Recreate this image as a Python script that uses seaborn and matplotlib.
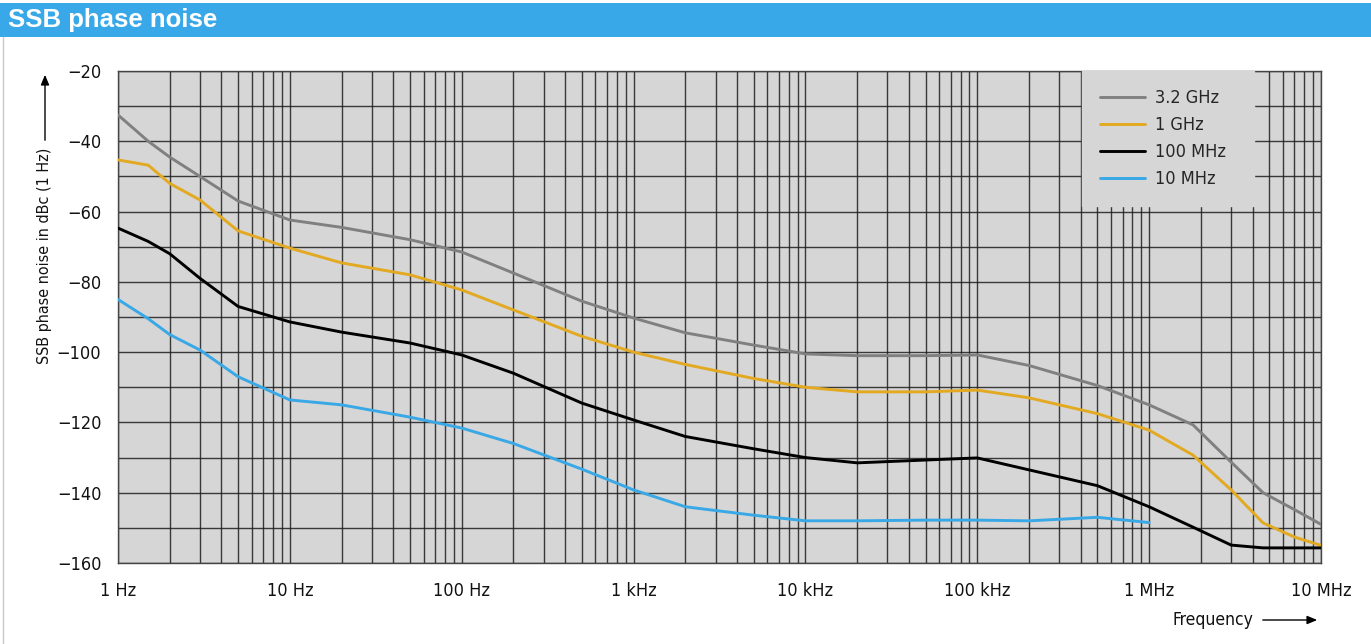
import numpy as np
import pandas as pd
import matplotlib
matplotlib.use("Agg")
import matplotlib.pyplot as plt
import matplotlib.ticker as mticker
import seaborn as sns

# ---------------- data ----------------
freq = [1, 1.5, 2, 3, 5, 10, 20, 50, 100, 200, 500, 1e3, 2e3, 5e3, 1e4, 2e4, 5e4,
        1e5, 2e5, 5e5, 1e6, 1.8e6, 3e6, 4.6e6, 7e6, 1e7]
ghz32 = [-32.5, -40, -44.5, -50, -57, -62.4, -64.5, -68, -71.5, -77.5, -85.5, -90.3,
         -94.5, -98, -100.5, -101, -101, -100.8, -103.8, -109.5, -115, -120.7, -131.3,
         -140, -144.8, -149]
ghz1 = [-45.3, -46.8, -52, -56.7, -65.5, -70.4, -74.6, -78, -82.3, -88, -95.5, -100,
        -103.5, -107.5, -110, -111.3, -111.3, -110.8, -113, -117.5, -122.2, -129.3,
        -139.2, -148.6, -152.6, -155]
mhz100 = [-64.7, -68.5, -72, -79, -87, -91.4, -94.3, -97.4, -100.8, -106, -114.5, -119.3,
          -124, -127.5, -130, -131.5, -130.7, -130.1, -133.5, -138, -144, -149.8, -154.9,
          -155.7, -155.7, -155.7]
freq_10m = freq[:21]
mhz10 = [-85, -90.5, -95, -99.4, -107, -113.6, -115, -118.5, -121.6, -126, -133.3, -139.2,
         -144, -146.4, -148, -148, -147.8, -147.8, -148, -147, -148.5]

series_names = ["3.2 GHz", "1 GHz", "100 MHz", "10 MHz"]
colors = ["#808080", "#E2A921", "#000000", "#39A8E6"]
x_ticks = [1, 10, 100, 1e3, 1e4, 1e5, 1e6, 1e7]
x_labels = ["1 Hz", "10 Hz", "100 Hz", "1 kHz", "10 kHz", "100 kHz", "1 MHz", "10 MHz"]
y_ticks = [-20, -40, -60, -80, -100, -120, -140, -160]

frames = []
for name, xs, ys in [(series_names[0], freq, ghz32), (series_names[1], freq, ghz1),
                     (series_names[2], freq, mhz100), (series_names[3], freq_10m, mhz10)]:
    frames.append(pd.DataFrame({"freq": xs, "noise": ys, "series": name}))
df = pd.concat(frames, ignore_index=True)

# ---------------- style ----------------
sns.set_theme(style="white")
plt.rcParams["font.family"] = ["DejaVu Sans"]
plt.rcParams["font.stretch"] = "condensed"
plt.rcParams["axes.unicode_minus"] = True

fig = plt.figure(figsize=(13.71, 6.44), dpi=100)
fig.patch.set_facecolor("white")

# header bar
fig.patches.append(plt.Rectangle((0, 1 - 37 / 644), 1, 34 / 644, transform=fig.transFigure,
                                 facecolor="#38A8E8", edgecolor="none", zorder=0))
fig.text(8 / 1371, 1 - 20 / 644, "SSB phase noise", color="white", fontsize=18.5,
         fontweight="bold", family=["Liberation Sans", "DejaVu Sans"], fontstretch="normal",
         va="center", ha="left")
fig.lines.append(plt.Line2D([3 / 1371, 3 / 1371], [0, 1 - 37 / 644], transform=fig.transFigure,
                            color="#C8C8C8", lw=1))

ax = fig.add_axes([118 / 1371, 1 - 563 / 644, 1203 / 1371, 492 / 644])
ax.set_facecolor("#D6D6D6")

sns.lineplot(data=df, x="freq", y="noise", hue="series", hue_order=series_names,
             palette=dict(zip(series_names, colors)), linewidth=2.1, ax=ax, sort=False,
             estimator=None, zorder=3)

ax.set_xscale("log")
ax.set_xlim(1, 1e7)
ax.set_ylim(-160, -20)
ax.set_xticks(x_ticks)
ax.set_xticklabels(x_labels)
ax.xaxis.set_minor_locator(mticker.LogLocator(base=10, subs=np.arange(2, 10), numticks=100))
ax.xaxis.set_minor_formatter(mticker.NullFormatter())
ax.set_yticks(y_ticks)
ax.yaxis.set_minor_locator(mticker.MultipleLocator(10))
ax.tick_params(axis="both", which="major", length=8, width=1, color="#555555",
               labelsize=13, labelcolor="#111111", pad=4, direction="out")
ax.tick_params(axis="both", which="minor", length=0)
ax.tick_params(axis="x", which="major", pad=6)
ax.grid(True, which="both", axis="both", color="#1e1e1e", linewidth=1.0, alpha=0.85, zorder=1)
ax.set_axisbelow(True)
for s in ax.spines.values():
    s.set_color("#444444")
    s.set_linewidth(1)
ax.set_xlabel("")
ax.set_ylabel("")

leg = ax.legend(loc="upper left", bbox_to_anchor=(964 / 1203, 1.0, 172 / 1203, 0),
                mode="expand", borderaxespad=0, frameon=True, fancybox=False,
                facecolor="#D6D6D6", edgecolor="#D6D6D6", framealpha=1, fontsize=13,
                handlelength=2.5, handletextpad=0.55, labelspacing=0.5, borderpad=1.0)
for h in leg.get_lines():
    h.set_linewidth(2.1)
leg.set_zorder(5)

# axis labels with arrows
fig.text(45 / 1371, 1 - 256 / 644, "SSB phase noise in dBc (1 Hz)", rotation=90,
         fontsize=11.5, ha="center", va="center", color="#111111")
fig.add_artist(matplotlib.patches.FancyArrowPatch(
    (45 / 1371, 1 - 143 / 644), (45 / 1371, 1 - 72 / 644), transform=fig.transFigure,
    arrowstyle="-|>,head_length=6,head_width=2.5", color="black", lw=1))
fig.text(1253 / 1371, 1 - 620 / 644, "Frequency", fontsize=12.5, ha="right", va="center",
         color="#111111")
fig.add_artist(matplotlib.patches.FancyArrowPatch(
    (1260 / 1371, 1 - 620 / 644), (1320 / 1371, 1 - 620 / 644), transform=fig.transFigure,
    arrowstyle="-|>,head_length=6,head_width=2.5", color="black", lw=1))

fig.savefig("out.png", dpi=100, facecolor="white")
